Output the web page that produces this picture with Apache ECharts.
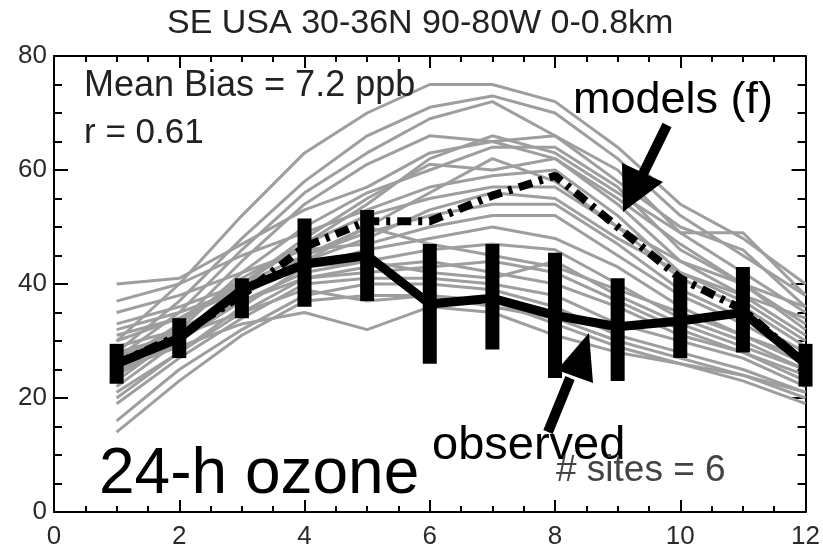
<!DOCTYPE html>
<html>
<head>
<meta charset="utf-8">
<script src="https://cdn.jsdelivr.net/npm/echarts@6/dist/echarts.min.js"></script>
<style>
  html, body { margin: 0; padding: 0; background: #fff; }
  #chart { width: 823px; height: 556px; }
</style>
</head>
<body>
<div id="chart"></div>
<script>
// months
var months = [1, 2, 3, 4, 5, 6, 7, 8, 9, 10, 11, 12];

// observed mean and error bar range (ppb)
var observed = [26, 30.5, 39, 43.5, 45, 36.5, 37.5, 34.5, 32.5, 33.5, 35, 26];
var obsLow   = [22.5, 27, 34, 36, 37, 26, 28.5, 23.5, 23, 27, 28, 22];
var obsHigh  = [29.5, 34, 41, 51.5, 53, 47, 47, 45.5, 41, 41, 43, 29.5];

// multi-model mean
var modelMean = [26, 31, 38, 46.5, 51, 51, 55.5, 59, 50, 41, 35.5, 26];

// individual models
var models = [
    [30, 40, 52, 63, 70, 75, 75, 72, 64, 54, 48, 40],
    [28, 37, 48, 58, 66, 71, 73, 70, 62, 52, 45, 38],
    [27, 35, 46, 56, 63, 69, 72, 66, 58, 50, 46, 36],
    [25, 33, 44, 54, 61, 66, 65, 66, 60, 49, 42, 35],
    [40, 41, 47, 53, 57, 63, 65, 62, 55, 47, 40, 33],
    [24, 32, 42, 50, 56, 60, 64, 64, 57, 46, 40, 32],
    [23, 31, 40, 48, 55, 61, 60, 62, 54, 44, 38, 31],
    [37, 40, 45, 49, 53, 57, 59, 60, 52, 42, 37, 30],
    [26, 33, 41, 47, 52, 55, 57, 57, 50, 41, 36, 29],
    [22, 30, 38, 45, 49, 52, 54, 54, 47, 39, 34, 28],
    [35, 38, 42, 46, 47, 50, 52, 52, 45, 38, 33, 27],
    [20, 28, 36, 43, 46, 48, 50, 48, 43, 36, 31, 26],
    [31, 34, 39, 43, 44, 46, 47, 46, 40, 34, 30, 25],
    [29, 32, 37, 41, 42, 43, 44, 42, 37, 32, 28, 24],
    [19, 27, 34, 40, 41, 41, 40, 38, 33, 30, 27, 22],
    [16, 25, 32, 38, 40, 40, 39, 36, 31, 28, 25, 21],
    [14, 23, 31, 37, 38, 38, 37, 33, 29, 26, 23, 19],
    [28, 31, 35, 39, 37, 38, 36, 34, 30, 27, 24, 20],
    [25, 29, 33, 35, 32, 36, 35, 31, 28, 26, 24, 21],
    [32, 35, 39, 44, 48, 53, 56, 55, 48, 42, 38, 34],
    [27, 32, 38, 44, 50, 56, 62, 58, 50, 44, 40, 36],
    [30, 34, 40, 47, 54, 62, 66, 63, 56, 49, 49, 38],
    [21, 28, 35, 41, 43, 44, 42, 40, 36, 31, 28, 23],
    [24, 30, 37, 42, 44, 42, 41, 44, 38, 33, 29, 25],
    [33, 36, 40, 45, 50, 47, 45, 43, 39, 35, 31, 27]
];

var xTicks = [0, 2, 4, 6, 8, 10, 12];
var yTicks = [0, 20, 40, 60, 80];

var font = '"Liberation Sans", Helvetica, Arial, sans-serif';

function pairs(vals) {
    var out = [];
    for (var i = 0; i < months.length; i++) out.push([months[i], vals[i]]);
    return out;
}

var series = [];
for (var m = 0; m < models.length; m++) {
    series.push({
        type: 'line',
        data: pairs(models[m]),
        symbol: 'none',
        silent: true,
        lineStyle: { color: '#9e9e9e', width: 3 },
        z: 1
    });
}
series.push({
    type: 'line',
    data: pairs(modelMean),
    symbol: 'none',
    lineStyle: { color: '#000', width: 8, type: [14, 7, 4, 7] },
    z: 3
});
series.push({
    type: 'line',
    data: pairs(observed),
    symbol: 'circle',
    symbolSize: 13,
    itemStyle: { color: '#000' },
    lineStyle: { color: '#000', width: 9 },
    z: 4
});
var bars = [];
for (var i = 0; i < months.length; i++) bars.push([months[i], obsLow[i], obsHigh[i]]);
series.push({
    type: 'custom',
    data: bars,
    z: 5,
    renderItem: function (params, api) {
        var lo = api.coord([api.value(0), api.value(1)]);
        var hi = api.coord([api.value(0), api.value(2)]);
        return {
            type: 'rect',
            shape: { x: lo[0] - 7, y: hi[1], width: 14, height: lo[1] - hi[1] },
            style: { fill: '#000' }
        };
    }
});

function xAxis(pos, labels) {
    return {
        type: 'value', position: pos, min: 0, max: 12, interval: 2,
        axisLine: { show: true, onZero: false, lineStyle: { color: '#000', width: 2 } },
        axisTick: { show: true, inside: true, length: 12, lineStyle: { color: '#000', width: 2 } },
        minorTick: { show: true, splitNumber: 4, length: 6, lineStyle: { color: '#000', width: 2 } },
        splitLine: { show: false },
        axisLabel: { show: labels, color: '#2a2a2a', fontSize: 26, fontFamily: font, margin: 12,
            formatter: function (v) { return xTicks.indexOf(v) >= 0 ? String(v) : ''; } }
    };
}
function yAxis(pos, labels) {
    return {
        type: 'value', position: pos, min: 0, max: 80, interval: 20,
        axisLine: { show: true, onZero: false, lineStyle: { color: '#000', width: 2 } },
        axisTick: { show: true, inside: true, length: 14, lineStyle: { color: '#000', width: 2 } },
        minorTick: { show: true, splitNumber: 4, length: 8, lineStyle: { color: '#000', width: 2 } },
        splitLine: { show: false },
        axisLabel: { show: labels, color: '#2a2a2a', fontSize: 26, fontFamily: font, margin: 7,
            formatter: function (v) { return yTicks.indexOf(v) >= 0 ? String(v) : ''; } }
    };
}

function label(txt, x, y, size, color) {
    return {
        type: 'text', x: x, y: y, z: 20,
        style: {
            text: txt, font: size + 'px ' + font, fill: color || '#000',
            textAlign: 'left', align: 'left', textVerticalAlign: 'middle', verticalAlign: 'middle'
        }
    };
}

var chart = echarts.init(document.getElementById('chart'));
chart.setOption({
    animation: false,
    backgroundColor: '#fff',
    title: {
        text: 'SE USA 30-36N 90-80W 0-0.8km',
        left: 162, top: 2,
        textStyle: { color: '#222', fontSize: 34, fontWeight: 'normal', fontFamily: font }
    },
    grid: { left: 54, right: 17, top: 56, bottom: 44 },
    xAxis: [xAxis('bottom', true), xAxis('top', false)],
    yAxis: [yAxis('left', true), yAxis('right', false)],
    series: series,
    graphic: [
        label('Mean Bias = 7.2 ppb', 84, 86, 36, '#222'),
        label('r = 0.61', 84, 133, 35, '#222'),
        label('models (f)', 573, 101, 45),
        label('24-h ozone', 99, 475, 64),
        label('observed', 432, 446, 47),
        label('# sites = 6', 556, 471, 37, '#444'),
        { type: 'polyline', z: 20, shape: { points: [[667, 125], [640, 180]] },
          style: { stroke: '#000', lineWidth: 10 } },
        { type: 'polygon', z: 20, shape: { points: [[622, 163], [663, 182], [623, 212]] },
          style: { fill: '#000' } },
        { type: 'polyline', z: 20, shape: { points: [[548, 432], [570, 378]] },
          style: { stroke: '#000', lineWidth: 10 } },
        { type: 'polygon', z: 20, shape: { points: [[557, 370], [593, 383], [589, 333]] },
          style: { fill: '#000' } }
    ]
});
</script>
</body>
</html>
